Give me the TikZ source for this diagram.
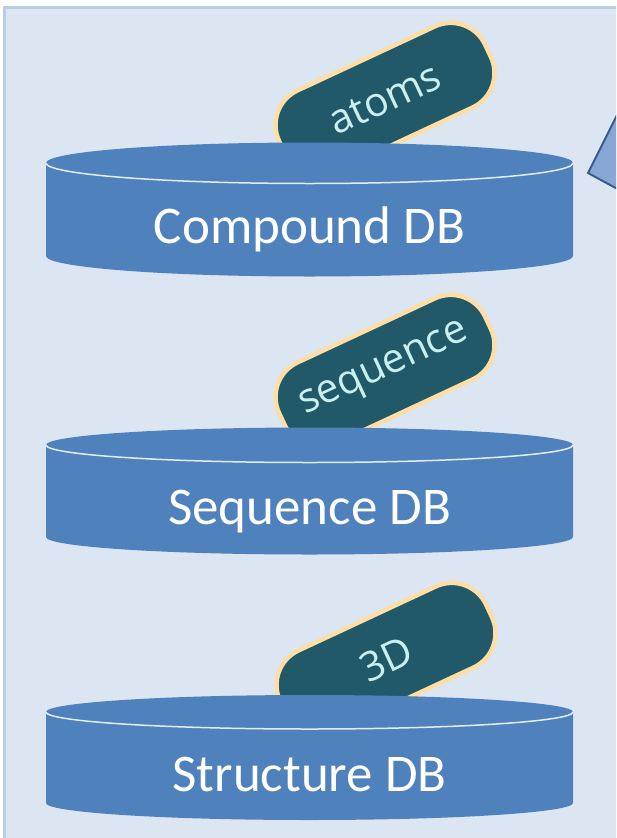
\documentclass[tikz,border=0pt]{standalone}
\usepackage{fontspec}
\setmainfont{Carlito}
\newfontfamily\tagfont{Open Sans}
\definecolor{bgfill}{RGB}{220,230,242}
\definecolor{bgline}{RGB}{185,205,229}
\definecolor{cylblue}{RGB}{79,129,189}
\definecolor{tagfill}{RGB}{33,89,104}
\definecolor{tagline}{RGB}{252,222,166}
\definecolor{tagtext}{RGB}{200,240,240}
\definecolor{arrline}{RGB}{56,93,138}
\definecolor{arrfill}{RGB}{135,168,215}
\definecolor{rimline}{RGB}{228,236,246}
\newcommand\mycyl[3]{%
  \fill[cylblue] (46,#1) -- (46,#2) arc[start angle=180,end angle=0,x radius=263.5,y radius=#3] -- (573,#1) -- cycle;
  \fill[cylblue] (309.5,#1) ellipse[x radius=263.5,y radius=#3];
  \draw[rimline, line width=1.5pt] (46,#1) arc[start angle=180,end angle=0,x radius=263.5,y radius=#3];
}
\begin{document}
\begin{tikzpicture}[x=1pt,y=-1pt,
  tagbox/.style={draw=tagline, fill=tagfill, line width=4.5pt, rounded corners=38pt,
    rotate=25, minimum width=227.5pt, minimum height=89.5pt, text=tagtext,
    font=\tagfont\fontsize{40.5}{48}\selectfont, inner sep=0pt},
  dblabel/.style={text=white, font=\fontsize{53}{64}\selectfont, anchor=base, inner sep=0pt}]
\useasboundingbox (0,0) rectangle (616,838);
\clip (0,0) rectangle (616,838);
\fill[white] (0,0) rectangle (616,838);
\draw[bgline, fill=bgfill, line width=3pt] (4.5,7.5) rectangle (640,860);
% partial arrow shape at the right edge
\draw[arrline, fill=arrfill, line width=2pt, line join=miter] (588,173) -- (625,99) -- (625,193) -- cycle;
% tags (behind the cylinders)
\node[tagbox] (atoms) at (385,99) {atoms};
\node[tagbox] (seq) at (385,371) {sequence};
\node[tagbox] (threed) at (386,659) {3D};
% cylinders
\mycyl{163}{256}{20.5}
\node[dblabel] (compound) at (309.5,243.5) {Compound DB};
\mycyl{445}{537}{17.5}
\node[dblabel] (sequence) at (309.5,524.5) {Sequence DB};
\mycyl{712}{803}{17}
\node[dblabel] (structure) at (309.5,791) {Structure DB};
\end{tikzpicture}
\end{document}
